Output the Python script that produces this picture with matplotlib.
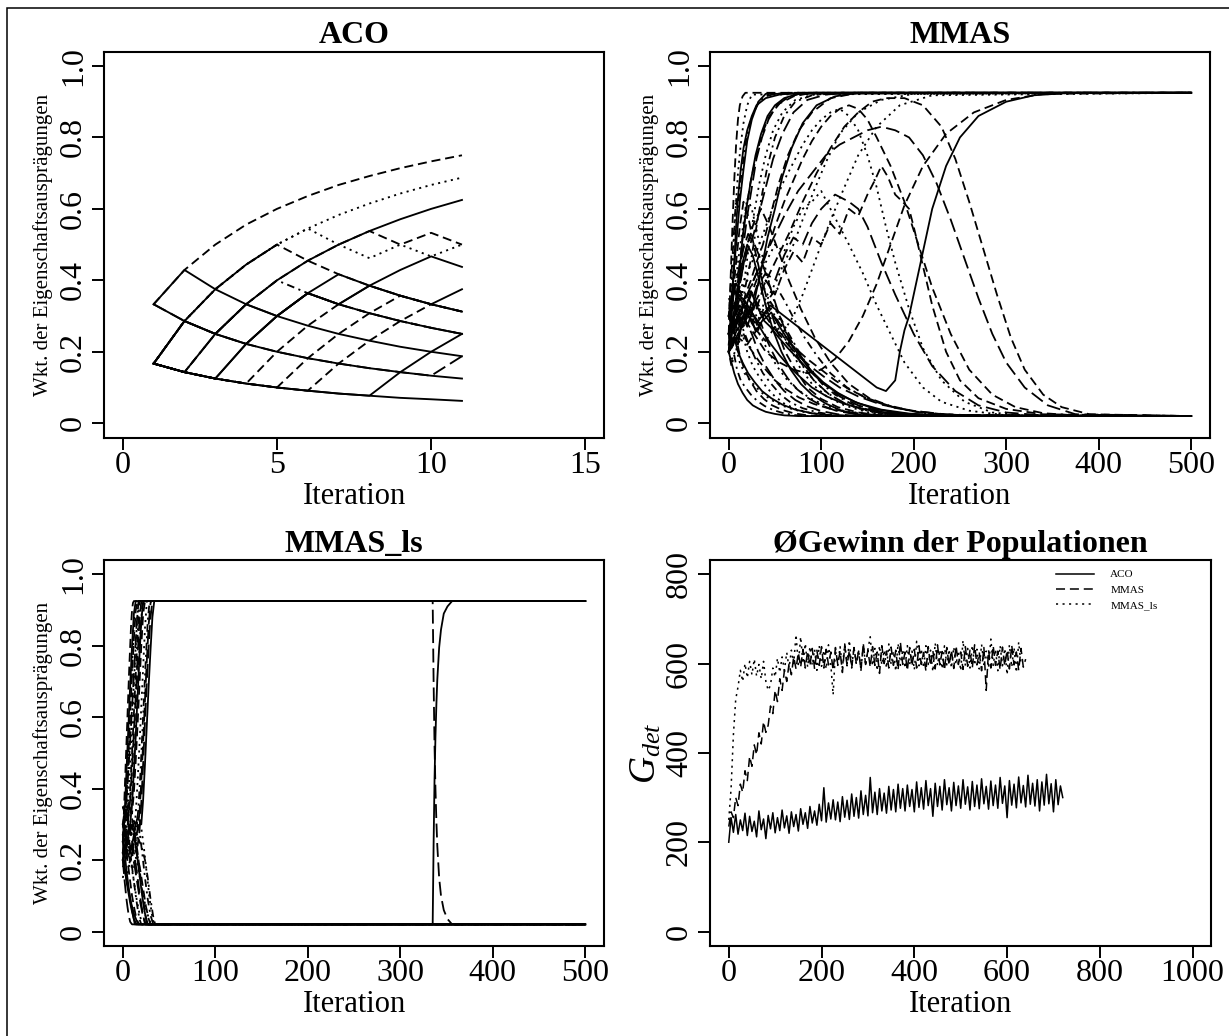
import numpy as np
import matplotlib
matplotlib.use('Agg')
import matplotlib.pyplot as plt
from matplotlib.patches import Rectangle

plt.rcParams['font.family'] = ['Liberation Serif', 'DejaVu Serif']
plt.rcParams['mathtext.fontset'] = 'custom'
plt.rcParams['mathtext.rm'] = 'Liberation Serif'
plt.rcParams['mathtext.it'] = 'Liberation Serif:italic'
plt.rcParams['lines.scale_dashes'] = False

STY = {'solid': '-', 'dashed': (0, (6.5, 3.5)), 'dotted': (0, (1.5, 3.2)),
       'dotdash': (0, (1.5, 3.2, 5.5, 3.2)), 'longdash': (0, (10, 4))}

# ---------------- ACO panel (iterations 1..11) ----------------
aco_t = [1, 2, 3, 4, 5, 6, 7, 8, 9, 10, 11]
aco_lines = [
    ('solid',    aco_t, [.167, .143, .125, .111, .100, .091, .083, .077, .071, .067, .0625]),
    ('solid',    aco_t, [.333, .286, .250, .222, .200, .182, .167, .154, .143, .133, .125]),
    ('dashed',   aco_t, [.333, .429, .500, .556, .600, .636, .667, .692, .714, .733, .750]),
    ('solid',    aco_t, [.333, .429, .375, .333, .300, .273, .250, .231, .214, .200, .1875]),
    ('dotted',   aco_t, [.167, .286, .375, .444, .500, .545, .583, .615, .643, .667, .6875]),
    ('solid',    aco_t, [.167, .143, .250, .333, .400, .455, .500, .538, .571, .600, .625]),
    ('solid',    aco_t[:5], [.167, .286, .375, .444, .500]),
    ('solid',    aco_t, [.167, .143, .125, .222, .300, .364, .333, .308, .286, .267, .250]),
    ('dashed',   aco_t, [.167, .143, .125, .111, .200, .273, .333, .308, .286, .267, .250]),
    ('dashed',   aco_t, [.167, .143, .125, .111, .100, .182, .250, .308, .357, .333, .3125]),
    ('dashed',   aco_t, [.167, .143, .125, .111, .100, .091, .167, .231, .286, .333, .3125]),
    ('solid',    aco_t, [.167, .143, .125, .111, .100, .091, .083, .077, .143, .200, .250]),
    ('longdash', aco_t, [.333, .286, .250, .222, .200, .182, .167, .154, .143, .133, .1875]),
    ('dotted',   aco_t, [.167, .286, .375, .444, .500, .545, .500, .462, .500, .467, .500]),
    ('dashed',   aco_t, [.167, .143, .250, .333, .400, .455, .500, .538, .500, .533, .500]),
    ('solid',    aco_t, [.167, .143, .125, .222, .300, .364, .417, .385, .429, .467, .4375]),
    ('solid',    aco_t, [.167, .286, .250, .222, .300, .364, .333, .385, .357, .333, .375]),
    ('dotdash',  aco_t, [.167, .143, .250, .333, .400, .364, .333, .308, .286, .267, .250]),
    ('dashed',   aco_t, [.167, .286, .375, .444, .500, .455, .417, .385, .357, .333, .3125]),
    ('solid',    aco_t, [.167, .286, .250, .333, .300, .364, .333, .385, .357, .333, .3125]),
]

# ---------------- MMAS panel ----------------
mmas_lines = [
    ('solid', [0,2,4,6,8,10,13,16,20,25,30,40,55,75,500],
              [.22,.28,.36,.45,.55,.63,.71,.77,.82,.86,.89,.91,.92,.925,.925]),
    ('dashed', [0,3,6,9,12,15,19,24,30,36,44,55,70,90,500],
               [.20,.24,.31,.37,.45,.52,.60,.68,.75,.81,.86,.895,.915,.925,.925]),
    ('dotted', [0,3,5,8,11,14,18,22,27,33,40,48,58,72,95,500],
               [.25,.30,.27,.33,.38,.35,.42,.50,.58,.67,.75,.82,.87,.905,.922,.925]),
    ('dotdash', [0,4,8,12,16,20,25,30,36,42,50,60,72,90,120,500],
                [.20,.26,.30,.28,.35,.41,.47,.55,.64,.72,.80,.86,.90,.918,.925,.925]),
    ('longdash', [0,3,7,11,15,20,26,32,40,48,58,70,85,105,130,500],
                 [.30,.34,.40,.37,.43,.48,.52,.58,.66,.74,.81,.87,.905,.92,.925,.925]),
    ('solid', [0,5,10,15,20,25,30,36,42,50,58,68,80,95,115,140,500],
              [.20,.24,.22,.29,.33,.31,.37,.44,.52,.60,.69,.77,.84,.89,.915,.925,.925]),
    ('dashed', [0,4,8,13,18,24,30,37,45,54,64,76,90,110,140,500],
               [.25,.29,.35,.30,.36,.40,.45,.50,.58,.67,.75,.82,.87,.91,.925,.925]),
    ('dotted', [0,6,12,20,28,36,44,52,60,70,80,92,105,120,140,165,200,500],
               [.30,.27,.32,.30,.34,.31,.36,.40,.45,.50,.57,.65,.73,.81,.87,.905,.922,.925]),
    ('dotted', [0,8,16,24,32,40,50,60,70,80,90,100,112,125,140,160,185,220,500],
               [.25,.30,.27,.33,.29,.35,.30,.26,.30,.36,.43,.50,.58,.66,.75,.83,.89,.918,.925]),
    ('dashed', [0,10,20,30,40,55,70,85,100,115,130,145,160,175,190,210,235,265,300,340,500],
               [.25,.30,.28,.24,.20,.17,.15,.14,.15,.18,.23,.30,.39,.50,.61,.72,.81,.87,.905,.922,.925]),
    ('solid', [0,10,20,30,45,60,80,100,120,140,160,170,180,185,190,195,200,210,220,235,250,270,300,330,370,500],
              [.20,.25,.30,.28,.33,.30,.26,.22,.18,.14,.10,.09,.12,.20,.26,.30,.36,.48,.60,.72,.80,.86,.90,.918,.925,.925]),
    ('dotdash', [0,2,4,6,8,10,12,15,18,22,27,33,40,50,65,500],
                [.30,.38,.46,.55,.63,.60,.66,.72,.78,.83,.87,.90,.915,.922,.925,.925]),
    ('longdash', [0,3,6,9,12,16,20,25,30,36,43,52,64,80,500],
                 [.20,.28,.25,.33,.42,.50,.58,.66,.74,.80,.85,.89,.912,.925,.925]),
    ('solid', [0,3,6,9,12,15,19,24,29,35,42,50,60,75,95,500],
              [.25,.30,.38,.35,.43,.52,.60,.68,.75,.81,.86,.89,.91,.922,.925,.925]),
    ('dashed', [0,2,4,6,8,10,12,15,18,500], [.25,.40,.55,.68,.78,.85,.89,.915,.925,.925]),
    ('dotted', [0,2,4,6,8,10,13,16,20,25,500], [.20,.30,.42,.53,.62,.70,.78,.84,.89,.92,.925]),
    ('solid', [0,3,6,9,12,16,20,25,32,40,500], [.30,.35,.44,.53,.62,.71,.79,.85,.90,.922,.925]),
    # rise, then fall
    ('dashed', [0,10,20,30,40,50,60,70,80,90,100,110,120,130,140,150,158,165,172,180,188,195,200,210,220,235,250,270,300,340,500],
               [.25,.30,.35,.32,.40,.36,.43,.48,.45,.52,.50,.56,.53,.60,.58,.64,.68,.72,.69,.64,.62,.60,.55,.44,.33,.20,.12,.07,.04,.025,.02]),
    ('dotted', [0,10,20,30,40,50,60,70,80,90,100,110,120,130,145,160,175,190,210,230,260,300,500],
               [.30,.35,.40,.38,.45,.50,.48,.55,.60,.62,.65,.60,.55,.50,.42,.33,.25,.17,.10,.06,.035,.022,.02]),
    ('longdash', [0,10,20,30,40,50,60,70,80,90,100,115,130,140,150,165,180,200,220,245,270,300,340,500],
                 [.25,.32,.30,.38,.42,.40,.47,.52,.50,.56,.60,.64,.62,.60,.55,.45,.36,.25,.16,.09,.05,.03,.022,.02]),
    ('dashed', [0,10,20,30,40,50,60,70,80,90,100,110,120,130,140,150,160,175,190,205,220,240,260,285,310,340,380,500],
               [.20,.27,.33,.40,.47,.55,.62,.68,.74,.79,.83,.86,.88,.89,.88,.85,.80,.72,.62,.50,.38,.25,.15,.08,.045,.028,.021,.02]),
    ('longdash', [0,10,20,30,45,60,75,90,105,120,135,150,165,180,195,210,225,240,255,270,285,300,320,345,375,500],
                 [.25,.30,.36,.42,.50,.58,.65,.70,.75,.78,.80,.82,.83,.82,.80,.75,.67,.57,.46,.35,.25,.17,.10,.05,.025,.02]),
    ('dashed', [0,10,20,35,50,65,80,95,110,125,140,155,170,190,210,230,245,260,275,290,305,320,340,360,390,500],
               [.20,.24,.30,.37,.45,.53,.62,.70,.77,.83,.87,.90,.91,.91,.89,.83,.74,.62,.49,.36,.24,.15,.08,.045,.025,.02]),
    ('dotted', [0,10,20,30,40,50,60,70,80,90,100,110,120,130,140,150,160,170,180,195,210,230,255,285,320,500],
               [.30,.36,.42,.48,.55,.62,.68,.73,.78,.82,.85,.87,.88,.86,.82,.75,.66,.55,.45,.32,.21,.12,.06,.03,.021,.02]),
    # fall to the lower bound
    ('solid', [0,3,6,10,15,20,26,33,40,50,60,75,500],
              [.20,.17,.14,.11,.085,.065,.05,.04,.032,.026,.022,.02,.02]),
    ('dashed', [0,4,8,12,17,23,30,38,47,58,70,85,100,500],
               [.25,.22,.24,.19,.15,.12,.09,.068,.05,.037,.028,.022,.02,.02]),
    ('dotted', [0,5,10,15,20,26,33,41,50,60,72,86,102,120,500],
               [.20,.26,.22,.25,.20,.16,.13,.10,.075,.055,.04,.03,.023,.02,.02]),
    ('dotdash', [0,5,10,16,22,29,37,46,56,67,80,95,112,130,500],
                [.30,.27,.30,.26,.22,.18,.14,.11,.08,.058,.042,.031,.024,.02,.02]),
    ('longdash', [0,6,12,18,25,32,40,50,60,72,85,100,118,140,500],
                 [.25,.30,.33,.29,.25,.20,.16,.12,.09,.065,.047,.034,.025,.02,.02]),
    ('solid', [0,5,10,15,20,26,33,40,48,57,67,78,90,105,122,145,500],
              [.20,.30,.38,.45,.50,.47,.40,.33,.26,.20,.15,.11,.08,.055,.035,.022,.02]),
    ('dashed', [0,4,8,12,16,21,27,34,42,51,61,72,85,100,118,140,165,500],
               [.25,.35,.45,.55,.62,.58,.50,.42,.34,.27,.20,.15,.10,.068,.045,.03,.022,.02]),
    ('dotted', [0,8,16,24,32,40,50,60,70,80,92,105,120,138,158,180,500],
               [.30,.28,.33,.30,.27,.31,.28,.24,.20,.16,.12,.088,.062,.043,.03,.022,.02]),
    ('dotdash', [0,7,14,21,28,36,45,55,65,76,88,101,115,132,150,172,200,500],
                [.20,.23,.27,.30,.33,.30,.34,.30,.25,.20,.15,.11,.08,.055,.038,.027,.021,.02]),
    ('longdash', [0,6,12,18,25,33,42,52,63,75,88,103,120,140,162,188,215,500],
                 [.30,.26,.30,.34,.31,.28,.32,.29,.25,.20,.15,.11,.075,.05,.034,.024,.02,.02]),
    ('solid', [0,6,12,18,24,30,38,46,55,65,76,88,102,118,136,158,185,215,250,500],
              [.25,.30,.35,.32,.37,.33,.29,.31,.27,.23,.19,.15,.115,.085,.06,.04,.028,.022,.02,.02]),
    ('dashed', [0,5,10,15,20,27,35,44,54,65,78,93,110,130,152,178,208,240,500],
               [.20,.28,.36,.43,.50,.56,.60,.55,.48,.40,.32,.24,.17,.11,.07,.045,.03,.022,.02]),
    ('dotted', [0,4,8,12,17,22,28,35,43,52,62,74,88,104,122,145,170,200,500],
               [.25,.30,.26,.31,.35,.32,.28,.24,.20,.16,.125,.095,.07,.05,.036,.027,.022,.02,.02]),
    ('dotdash', [0,3,6,9,13,18,24,31,39,48,58,70,85,102,500],
                [.20,.16,.19,.15,.12,.10,.08,.062,.048,.037,.029,.023,.02,.02,.02]),
    ('longdash', [0,5,10,15,21,28,36,45,55,66,78,92,108,126,148,175,500],
                 [.30,.36,.42,.48,.53,.50,.45,.38,.30,.23,.17,.12,.082,.055,.036,.024,.02]),
    ('solid', [0,5,10,15,20,25,30,37,45,54,64,75,88,103,120,140,165,195,230,270,500],
              [.30,.33,.30,.27,.31,.28,.26,.29,.27,.24,.21,.18,.145,.11,.08,.056,.038,.027,.022,.02,.02]),
    ('dashed', [0,10,20,30,40,50,60,72,85,100,115,130,150,172,198,228,262,300,500],
               [.20,.24,.22,.26,.23,.27,.24,.21,.18,.15,.12,.095,.07,.05,.035,.026,.021,.02,.02]),
    ('dotted', [0,4,8,12,16,20,25,31,38,46,55,65,76,90,106,125,148,175,500],
               [.25,.33,.41,.49,.56,.63,.60,.53,.45,.37,.29,.22,.16,.11,.075,.05,.032,.022,.02]),
    ('dotdash', [0,6,12,18,24,30,36,44,52,61,71,82,95,110,128,150,176,206,240,500],
                [.30,.33,.37,.34,.38,.42,.39,.35,.38,.34,.29,.24,.19,.14,.10,.068,.045,.03,.022,.02]),
    ('longdash', [0,5,10,15,20,25,30,35,40,47,55,64,74,86,100,116,135,158,185,500],
                 [.20,.25,.30,.27,.32,.29,.25,.28,.24,.20,.16,.125,.095,.07,.05,.035,.026,.021,.02,.02]),
    ('solid', [0,3,6,10,15,21,28,36,46,58,72,90,112,140,500],
              [.25,.21,.24,.20,.17,.14,.115,.09,.07,.052,.038,.028,.022,.02,.02]),
    ('dashed', [0,5,10,16,23,31,40,50,62,76,92,110,132,158,190,500],
               [.30,.26,.29,.25,.21,.18,.15,.12,.095,.072,.054,.04,.03,.023,.02,.02]),
    ('dotted', [0,4,8,12,17,23,30,38,47,57,68,80,94,110,128,150,500],
               [.20,.18,.21,.17,.14,.12,.10,.08,.064,.05,.04,.032,.026,.022,.02,.02,.02]),
    ('solid', [0,5,10,15,20,25,31,38,46,55,65,77,90,106,124,146,172,205,500],
              [.25,.29,.26,.30,.27,.31,.28,.25,.22,.19,.16,.13,.10,.075,.055,.04,.029,.022,.02]),
    ('longdash', [0,6,12,18,24,30,37,45,54,64,75,88,103,120,140,165,195,230,270,500],
                 [.35,.32,.36,.33,.30,.34,.31,.28,.25,.22,.19,.16,.13,.10,.075,.052,.036,.026,.021,.02]),
]

# ---------------- MMAS_ls panel ----------------
ls_lines = [
    ('solid', [0,2,4,6,8,10,12,14,500], [.22,.33,.45,.57,.69,.80,.89,.925,.925]),
    ('dashed', [0,2,4,6,8,10,12,14,16,500], [.27,.30,.38,.49,.61,.72,.82,.90,.925,.925]),
    ('dotted', [0,3,5,7,9,11,13,15,17,500], [.20,.24,.32,.42,.53,.64,.75,.85,.925,.925]),
    ('dotdash', [0,2,4,6,8,10,12,14,16,18,500], [.30,.28,.33,.31,.40,.50,.61,.72,.83,.925,.925]),
    ('longdash', [0,2,4,6,8,10,12,14,16,18,20,500], [.25,.29,.26,.32,.37,.46,.56,.66,.77,.87,.925,.925]),
    ('solid', [0,3,6,8,10,12,14,16,18,20,22,500], [.20,.23,.27,.30,.36,.45,.55,.66,.77,.87,.925,.925]),
    ('dashed', [0,2,4,7,10,12,14,16,18,20,22,24,500], [.30,.34,.31,.35,.33,.39,.48,.58,.69,.80,.89,.925,.925]),
    ('dotted', [0,3,6,9,12,14,16,18,20,22,24,26,500], [.22,.26,.24,.28,.27,.33,.42,.52,.63,.74,.85,.925,.925]),
    ('dotdash', [0,3,6,9,12,15,17,19,21,23,25,27,29,500], [.25,.28,.30,.27,.31,.29,.35,.44,.55,.66,.77,.87,.925,.925]),
    ('longdash', [0,4,8,12,16,18,20,22,24,26,28,30,32,500], [.20,.24,.22,.26,.24,.28,.36,.47,.59,.70,.80,.88,.925,.925]),
    ('solid', [0,4,8,12,16,20,22,24,26,28,30,32,34,500], [.30,.27,.30,.28,.32,.30,.37,.47,.58,.69,.79,.88,.925,.925]),
    ('dashed', [0,1,2,3,4,5,6,7,8,9,10,11,12,500], [.25,.32,.39,.46,.53,.60,.67,.74,.80,.86,.90,.92,.925,.925]),
    ('dotted', [0,2,3,4,5,6,7,8,9,10,11,12,13,15,500], [.20,.22,.27,.33,.39,.46,.53,.60,.67,.74,.80,.86,.90,.925,.925]),
    ('dotdash', [0,3,6,9,11,13,15,17,19,21,23,500], [.35,.31,.36,.33,.42,.52,.63,.74,.84,.91,.925,.925]),
    ('longdash', [0,5,10,15,18,20,22,24,26,28,30,31,500], [.28,.25,.30,.27,.33,.42,.53,.65,.76,.86,.92,.925,.925]),
    ('solid', [0,2,4,6,8,10,12,15,500], [.22,.18,.14,.11,.08,.055,.035,.02,.02]),
    ('dashed', [0,2,4,6,8,10,12,14,17,500], [.30,.26,.22,.18,.14,.10,.07,.045,.02,.02]),
    ('dotted', [0,3,6,9,12,15,18,21,500], [.25,.28,.24,.19,.14,.09,.05,.02,.02]),
    ('dotdash', [0,2,4,6,8,10,12,14,16,18,20,500], [.20,.24,.21,.25,.22,.18,.14,.10,.065,.035,.02,.02]),
    ('longdash', [0,3,6,9,12,15,18,21,24,500], [.30,.33,.30,.27,.22,.17,.11,.06,.02,.02]),
    ('solid', [0,3,6,9,12,15,18,21,24,27,500], [.25,.22,.26,.23,.27,.22,.16,.10,.05,.02,.02]),
    ('dashed', [0,4,8,12,16,19,22,25,28,30,500], [.20,.23,.20,.24,.21,.17,.12,.07,.035,.02,.02]),
    ('dotted', [0,4,8,12,16,20,23,26,29,32,34,500], [.30,.27,.31,.28,.32,.29,.23,.16,.09,.04,.02,.02]),
    ('dotdash', [0,5,10,15,20,24,27,30,33,35,500], [.22,.26,.23,.27,.24,.20,.15,.09,.04,.02,.02]),
    ('longdash', [0,1,2,3,4,5,6,7,8,10,500], [.20,.17,.14,.115,.09,.07,.052,.038,.027,.02,.02]),
    ('solid', [0,2,4,6,8,10,13,500], [.27,.22,.17,.13,.09,.06,.02,.02]),
    ('dashed', [0,3,6,9,12,15,18,20,23,26,500], [.35,.32,.36,.33,.29,.24,.18,.13,.07,.02,.02]),
    ('dotted', [0,2,5,8,11,14,17,20,23,26,29,31,500], [.15,.18,.16,.20,.18,.21,.17,.13,.09,.055,.03,.02,.02]),
    ('dotdash', [0,3,6,9,12,15,18,21,24,27,30,33,500], [.25,.28,.26,.30,.27,.31,.28,.22,.15,.09,.045,.02,.02]),
    ('longdash', [0,4,7,10,13,16,19,22,25,500], [.18,.21,.19,.22,.18,.13,.08,.04,.02,.02]),
    # late switch around iteration 335-355
    ('longdash', [0,3,6,9,12,15,17,335,336,337,338,339,340,342,344,347,351,356,500],
                 [.25,.33,.45,.58,.72,.86,.925,.925,.70,.52,.40,.31,.24,.15,.10,.06,.035,.02,.02]),
    ('solid', [0,3,6,9,12,15,18,335,336,337,338,339,340,342,344,347,351,356,500],
              [.20,.16,.12,.08,.05,.03,.02,.02,.245,.425,.545,.635,.705,.795,.845,.89,.91,.925,.925]),
]

# ---------------- Gewinn panel (every 5th iteration) ----------------
gain_aco = [200,255,222,262,218,250,226,265,215,258,224,247,212,270,228,252,208,260,230,266,
            221,255,226,272,232,259,220,268,235,262,225,275,240,266,231,280,243,270,238,285,
            248,322,245,288,252,295,250,290,246,302,256,294,251,308,258,300,254,315,262,305,
            259,345,266,312,262,320,270,310,265,325,272,318,268,330,276,320,270,328,280,318,
            268,335,278,322,274,338,282,320,258,332,280,325,272,340,284,322,270,334,282,326,
            276,340,285,324,272,336,280,328,275,342,286,325,274,337,282,328,276,345,287,326,
            255,338,283,330,277,346,288,327,279,350,285,332,281,340,270,335,283,352,286,331,
            268,340,284,326,300]
gain_mmas = [235,268,255,300,282,330,312,360,338,392,370,418,396,445,420,470,446,462,505,488,
             540,515,566,540,585,560,600,575,615,588,625,592,632,590,628,595,634,588,630,596,
             638,590,632,597,626,585,636,598,628,580,640,595,630,590,636,600,628,585,645,598,
             630,592,638,596,626,578,640,600,628,590,637,596,630,586,648,598,626,584,636,594,
             632,590,640,598,625,583,638,595,629,588,642,597,627,585,636,596,630,589,640,598,
             626,587,638,594,630,590,642,597,625,584,636,540,630,590,640,596,628,586,637,595,
             630,588,641,597,626,585,634,592,610]
gain_ls = [250,320,440,520,548,585,560,600,568,605,575,610,572,598,566,605,560,540,552,590,
           570,612,580,615,585,625,590,630,600,665,598,660,600,645,592,638,596,632,585,640,
           594,630,588,642,598,530,630,596,638,590,644,600,652,592,636,598,630,586,642,596,
           632,660,595,634,584,640,597,630,590,644,598,628,583,645,596,632,590,640,598,628,
           586,650,595,633,590,640,598,630,582,646,596,631,588,640,597,632,590,637,598,629,
           584,652,595,634,590,641,596,632,588,643,598,628,590,655,596,632,584,640,595,634,
           575,642,592,636,580,648,598]
gain_aco_it = list(range(0, 5 * len(gain_aco), 5))
gain_mmas_it = list(range(0, 5 * len(gain_mmas), 5))
gain_ls_it = list(range(0, 5 * len(gain_ls), 5))

W, H = 1229, 1036
fig = plt.figure(figsize=(W / 100, H / 100), dpi=100)

def axes_px(left, top, width, height):
    return fig.add_axes([left / W, (H - top - height) / H, width / W, height / H])

axL = 104.3
axR = 710.2
aw = 499.5
ah = 385.8
ax1 = axes_px(axL, 51.7, aw, ah)
ax2 = axes_px(axR, 51.7, aw, ah)
ax3 = axes_px(axL, 560.0, aw, ah)
ax4 = axes_px(axR, 560.0, aw + 1.5, ah)

for sty, xs, ys in aco_lines:
    ax1.plot(xs, ys, color='black', lw=1.35, ls=STY[sty])
for sty, xs, ys in mmas_lines:
    ax2.plot(xs, ys, color='black', lw=1.3, ls=STY[sty])
for sty, xs, ys in ls_lines:
    ax3.plot(xs, ys, color='black', lw=1.3, ls=STY[sty])

h1, = ax4.plot(gain_aco_it, gain_aco, color='black', lw=1.1, ls=STY['solid'])
h2, = ax4.plot(gain_mmas_it, gain_mmas, color='black', lw=1.1, ls=STY['dashed'])
h3, = ax4.plot(gain_ls_it, gain_ls, color='black', lw=1.1, ls=STY['dotted'])

TICK_FS = 23
LAB_FS = 22
TITLE_FS = 23

def style_axes(ax, xlim, ylim, xticks, yticks, ylabels, title, ylabel, ylabfs):
    ax.set_xlim(*xlim)
    ax.set_ylim(*ylim)
    ax.set_xticks(xticks)
    ax.set_xticklabels([str(t) for t in xticks])
    ax.set_yticks(yticks)
    ax.set_yticklabels(ylabels)
    for s in ax.spines.values():
        s.set_linewidth(1.5)
    ax.tick_params(direction='out', length=8.6, width=1.4, labelsize=TICK_FS)
    ax.tick_params(axis='x', pad=1.0)
    ax.tick_params(axis='y', pad=3.0, labelrotation=90)
    for lab in ax.get_yticklabels():
        lab.set_va('center')
    ax.set_title(title, fontsize=TITLE_FS, fontweight='bold', pad=6)
    ax.set_xlabel('Iteration', fontsize=LAB_FS, va='center')
    ax.xaxis.set_label_coords(0.5, -0.152)
    ax.set_ylabel(ylabel, fontsize=ylabfs, va='center')
    ax.yaxis.set_label_coords(-0.123, 0.5)

prob_ticks = [0, 0.2, 0.4, 0.6, 0.8, 1.0]
prob_labels = ['0', '0.2', '0.4', '0.6', '0.8', '1.0']
ylab = 'Wkt. der Eigenschaftsausprägungen'
style_axes(ax1, (-0.6, 15.6), (-0.04, 1.04), [0, 5, 10, 15], prob_ticks, prob_labels, 'ACO', ylab, 15)
style_axes(ax2, (-20, 520), (-0.04, 1.04), [0, 100, 200, 300, 400, 500], prob_ticks, prob_labels, 'MMAS', ylab, 15)
style_axes(ax3, (-20, 520), (-0.04, 1.04), [0, 100, 200, 300, 400, 500], prob_ticks, prob_labels, 'MMAS_ls', ylab, 15)
style_axes(ax4, (-40, 1040), (-32, 832), [0, 200, 400, 600, 800, 1000], [0, 200, 400, 600, 800],
           ['0', '200', '400', '600', '800'], 'ØGewinn der Populationen', r'$G_{det}$', 27)
ax4.yaxis.set_label_coords(-0.128, 0.5)

ax4.legend([h1, h2, h3], ['ACO', 'MMAS', 'MMAS_ls'], loc='upper left', bbox_to_anchor=(0.69, 0.975),
           frameon=False, fontsize=8, handlelength=3.4, handletextpad=1.5, labelspacing=0.5,
           borderpad=0, borderaxespad=0)

# page frame: only its left and top edges fall inside the picture
fig.add_artist(Rectangle((7 / W, -20 / H), 1260 / W, (1036 - 8 + 20) / H,
                         transform=fig.transFigure, fill=False, lw=1.1, ec='black'))

fig.savefig('out.png', dpi=100)
